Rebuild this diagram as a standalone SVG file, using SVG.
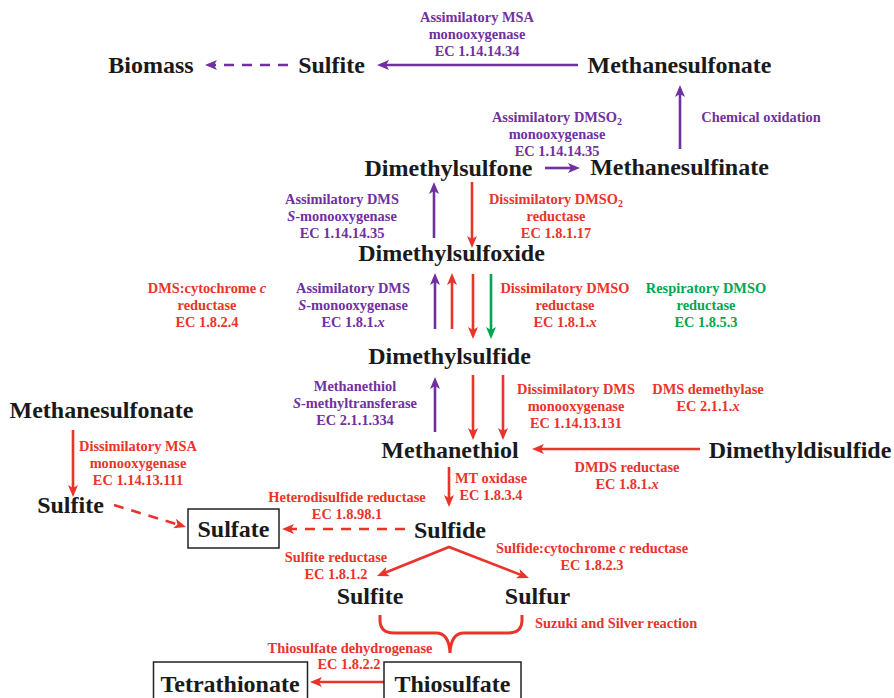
<svg xmlns="http://www.w3.org/2000/svg" width="894" height="698" viewBox="0 0 894 698">
<style>
.n{font-family:"Liberation Serif","Times New Roman",serif;font-weight:bold;font-size:24px;fill:#1a1a1a;text-anchor:middle}
.l{font-family:"Liberation Serif","Times New Roman",serif;font-weight:bold;font-size:14.4px;text-anchor:middle}
.p{fill:#7030a0}.r{fill:#e8342b}.g{fill:#00a651}
.ep{stroke:#7030a0;stroke-width:2.6;fill:none;marker-end:url(#ap)}
.er{stroke:#e8342b;stroke-width:2.6;fill:none;marker-end:url(#ar)}
.eg{stroke:#00a651;stroke-width:2.6;fill:none;marker-end:url(#ag)}
.d{stroke-dasharray:10 8}
.box{fill:#fff;stroke:#222;stroke-width:1.5}
</style>
<defs>
<marker id="ap" viewBox="0 0 12 10" refX="4" refY="5" markerWidth="12" markerHeight="10" markerUnits="userSpaceOnUse" orient="auto-start-reverse"><path d="M0,0 L12,5 L0,10 L3,5 z" fill="#7030a0"/></marker>
<marker id="ar" viewBox="0 0 12 10" refX="4" refY="5" markerWidth="12" markerHeight="10" markerUnits="userSpaceOnUse" orient="auto-start-reverse"><path d="M0,0 L12,5 L0,10 L3,5 z" fill="#e8342b"/></marker>
<marker id="ag" viewBox="0 0 12 10" refX="4" refY="5" markerWidth="12" markerHeight="10" markerUnits="userSpaceOnUse" orient="auto-start-reverse"><path d="M0,0 L12,5 L0,10 L3,5 z" fill="#00a651"/></marker>
</defs>
<rect width="894" height="698" fill="#fff"/>

<g id="connectors">
<path class="ep d" d="M288 65 L213 65"/>
<path class="ep" d="M578 65 L385 65"/>
<path class="ep" d="M680 149 L680 93"/>
<path class="ep" d="M545 168 L572 168"/>
<path class="ep" d="M434 238 L434 190"/>
<path class="er" d="M472 182 L472 240"/>
<path class="ep" d="M435 329 L435 281"/>
<path class="er" d="M452 329 L452 281"/>
<path class="er" d="M473 274 L473 331"/>
<path class="eg" d="M491 274 L491 331"/>
<path class="ep" d="M435 432 L435 385"/>
<path class="er" d="M473 375 L473 432"/>
<path class="er" d="M503 375 L503 432"/>
<path class="er" d="M700 449 L540 449"/>
<path class="er" d="M449 467 L449 499"/>
<path class="er" d="M73 430 L73 489"/>
<path class="er d" d="M114 505 L178.4 524.7"/>
<path class="er d" d="M405 529 L290 529"/>
<path class="er" style="marker-start:url(#ar)" d="M384.4 573 L449 547 L521.5 575.1"/>
<path d="M380 615 L380 620 Q380 633 394 633 L436 633 Q449 633 450 653 Q451 633 464 633 L508 633 Q522 633 522 620 L522 615" fill="none" stroke="#e8342b" stroke-width="3"/>
<path class="er" d="M384 682 L318 682"/>
</g>

<g id="edge-labels">
<text class="l p"><tspan x="477" y="22">Assimilatory MSA</tspan><tspan x="477" y="39">monooxygenase</tspan><tspan x="477" y="56">EC 1.14.14.34</tspan></text>
<text class="l p"><tspan x="557" y="122">Assimilatory DMSO<tspan font-size="10" dy="3">2</tspan></tspan><tspan x="557" y="139">monooxygenase</tspan><tspan x="557" y="156">EC 1.14.14.35</tspan></text>
<text class="l p" x="761" y="122">Chemical oxidation</text>
<text class="l p"><tspan x="342" y="204">Assimilatory DMS</tspan><tspan x="342" y="221"><tspan font-style="italic">S</tspan>-monooxygenase</tspan><tspan x="342" y="238">EC 1.14.14.35</tspan></text>
<text class="l r"><tspan x="556" y="204">Dissimilatory DMSO<tspan font-size="10" dy="3">2</tspan></tspan><tspan x="556" y="221">reductase</tspan><tspan x="556" y="238">EC 1.8.1.17</tspan></text>
<text class="l r"><tspan x="207" y="293">DMS:cytochrome <tspan font-style="italic">c</tspan></tspan><tspan x="207" y="310">reductase</tspan><tspan x="207" y="327">EC 1.8.2.4</tspan></text>
<text class="l p"><tspan x="353" y="293">Assimilatory DMS</tspan><tspan x="353" y="310"><tspan font-style="italic">S</tspan>-monooxygenase</tspan><tspan x="353" y="327">EC 1.8.1.<tspan font-style="italic">x</tspan></tspan></text>
<text class="l r"><tspan x="565" y="293">Dissimilatory DMSO</tspan><tspan x="565" y="310">reductase</tspan><tspan x="565" y="327">EC 1.8.1.<tspan font-style="italic">x</tspan></tspan></text>
<text class="l g"><tspan x="706" y="293">Respiratory DMSO</tspan><tspan x="706" y="310">reductase</tspan><tspan x="706" y="327">EC 1.8.5.3</tspan></text>
<text class="l p"><tspan x="355" y="391">Methanethiol</tspan><tspan x="355" y="408"><tspan font-style="italic">S</tspan>-methyltransferase</tspan><tspan x="355" y="425">EC 2.1.1.334</tspan></text>
<text class="l r"><tspan x="576" y="394">Dissimilatory DMS</tspan><tspan x="576" y="411">monooxygenase</tspan><tspan x="576" y="428">EC 1.14.13.131</tspan></text>
<text class="l r"><tspan x="708" y="394">DMS demethylase</tspan><tspan x="708" y="411">EC 2.1.1.<tspan font-style="italic">x</tspan></tspan></text>
<text class="l r"><tspan x="627" y="472">DMDS reductase</tspan><tspan x="627" y="489">EC 1.8.1.<tspan font-style="italic">x</tspan></tspan></text>
<text class="l r"><tspan x="491" y="483">MT oxidase</tspan><tspan x="491" y="500">EC 1.8.3.4</tspan></text>
<text class="l r"><tspan x="138" y="451">Dissimilatory MSA</tspan><tspan x="138" y="468">monooxygenase</tspan><tspan x="138" y="485">EC 1.14.13.111</tspan></text>
<text class="l r"><tspan x="347" y="502">Heterodisulfide reductase</tspan><tspan x="347" y="519">EC 1.8.98.1</tspan></text>
<text class="l r"><tspan x="336" y="562">Sulfite reductase</tspan><tspan x="336" y="579">EC 1.8.1.2</tspan></text>
<text class="l r"><tspan x="592" y="553">Sulfide:cytochrome <tspan font-style="italic">c</tspan> reductase</tspan><tspan x="592" y="570">EC 1.8.2.3</tspan></text>
<text class="l r" x="535" y="628" style="text-anchor:start">Suzuki and Silver reaction</text>
<text class="l r"><tspan x="350" y="653">Thiosulfate dehydrogenase</tspan><tspan x="349" y="669">EC 1.8.2.2</tspan></text>
</g>

<g id="biomass"><text class="n" x="151" y="73">Biomass</text></g>
<g id="sulfite-top"><text class="n" x="331.5" y="73">Sulfite</text></g>
<g id="methanesulfonate-top"><text class="n" x="679.5" y="73">Methanesulfonate</text></g>
<g id="dimethylsulfone"><text class="n" x="448.5" y="176">Dimethylsulfone</text></g>
<g id="methanesulfinate"><text class="n" x="679.5" y="175">Methanesulfinate</text></g>
<g id="dimethylsulfoxide"><text class="n" x="451.5" y="261">Dimethylsulfoxide</text></g>
<g id="dimethylsulfide"><text class="n" x="449.5" y="364">Dimethylsulfide</text></g>
<g id="methanethiol"><text class="n" x="450" y="458">Methanethiol</text></g>
<g id="dimethyldisulfide"><text class="n" x="800" y="458">Dimethyldisulfide</text></g>
<g id="methanesulfonate-left"><text class="n" x="101.5" y="418">Methanesulfonate</text></g>
<g id="sulfite-left"><text class="n" x="70.5" y="513">Sulfite</text></g>
<g id="sulfate"><rect class="box" x="188" y="509" width="91" height="39"/><text class="n" x="233.5" y="537">Sulfate</text></g>
<g id="sulfide"><text class="n" x="450" y="538">Sulfide</text></g>
<g id="sulfite-bottom"><text class="n" x="370" y="604">Sulfite</text></g>
<g id="sulfur"><text class="n" x="537.5" y="604">Sulfur</text></g>
<g id="tetrathionate"><rect class="box" x="153.5" y="662" width="154" height="40"/><text class="n" x="230" y="692">Tetrathionate</text></g>
<g id="thiosulfate"><rect class="box" x="384" y="662" width="137" height="40"/><text class="n" x="452.5" y="692">Thiosulfate</text></g>
</svg>
